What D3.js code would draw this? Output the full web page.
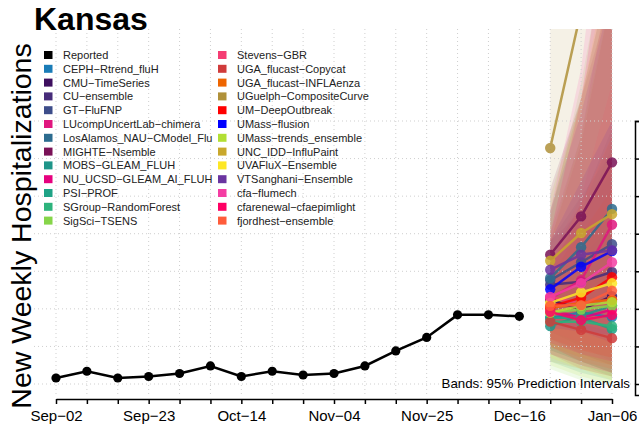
<!DOCTYPE html>
<html>
<head>
<meta charset="utf-8">
<script src="https://cdn.jsdelivr.net/npm/d3@7"></script>
<style>
  body { margin: 0; background: #fff; }
  svg { display: block; font-family: "Liberation Sans", Arial, sans-serif; }
</style>
</head>
<body>
<div id="chart"></div>
<script>
// weekly dates, Sep-02 to Jan-06
const weeks = ["2024-09-02","2024-09-09","2024-09-16","2024-09-23","2024-09-30","2024-10-07",
  "2024-10-14","2024-10-21","2024-10-28","2024-11-04","2024-11-11","2024-11-18","2024-11-25",
  "2024-12-02","2024-12-09","2024-12-16","2024-12-23","2024-12-30","2025-01-06"];
const tickLabels = ["Sep\u221202","Sep\u221223","Oct\u221214","Nov\u221204","Nov\u221225","Dec\u221216","Jan\u221206"];

const reported = [8, 17, 8, 10, 14, 24, 10, 17, 12, 14, 24, 44, 62, 92, 92, 90];

// forecast weeks are the last three dates
const models = ["CEPH\u2212Rtrend_fluH","CMU\u2212TimeSeries","CU\u2212ensemble","GT\u2212FluFNP",
  "LUcompUncertLab\u2212chimera","LosAlamos_NAU\u2212CModel_Flu","MIGHTE\u2212Nsemble","MOBS\u2212GLEAM_FLUH",
  "NU_UCSD\u2212GLEAM_AI_FLUH","PSI\u2212PROF","SGroup\u2212RandomForest","SigSci\u2212TSENS",
  "Stevens\u2212GBR","UGA_flucast\u2212Copycat","UGA_flucast\u2212INFLAenza","UGuelph\u2212CompositeCurve",
  "UM\u2212DeepOutbreak","UMass\u2212flusion","UMass\u2212trends_ensemble","UNC_IDD\u2212InfluPaint",
  "UVAFluX\u2212Ensemble","VTSanghani\u2212Ensemble","cfa\u2212flumech","cfarenewal\u2212cfaepimlight",
  "fjordhest\u2212ensemble"];
const colors = ["#1A7CB7","#3E0F5F","#472C7A","#3D4D8A","#E0167E","#2C6C8F","#7A1257","#1F9589",
  "#E6007E","#1FA386","#2DB37C","#86D549","#F53D73","#D03B3B","#EE6500","#B0913A",
  "#FF0000","#0000FF","#B2DF34","#C9A82C","#FDE725","#6A34A0","#F43DA3","#FF0064","#FF5C3B"];
const medians = [
  [88, 95, 89], [112, 99, 117], [132, 136, 149], [138, 162, 186], [114, 138, 212],
  [141, 182, 233], [172, 223, 295], [77, 91, 104], [99, 88, 99], [88, 88, 73],
  [83, 83, 77], [95, 99, 104], [116, 107, 112], [83, 72, 61], [101, 108, 112],
  [314, 497, 680], [103, 115, 142], [126, 156, 177], [95, 104, 109], [164, 201, 226],
  [108, 122, 134], [152, 172, 178], [116, 134, 162], [96, 85, 92], [104, 105, 124]];
const lower95 = [
  [45, 30, 15], [60, 40, 25], [80, 70, 60], [90, 90, 90], [55, 40, 30],
  [70, 50, 30], [100, 100, 110], [30, 15, 5], [40, 20, 10], [45, 30, 15],
  [40, 25, 10], [20, 5, 0], [70, 55, 45], [50, 30, 15], [50, 35, 25],
  [30, 20, 10], [60, 45, 35], [75, 70, 65], [25, 10, 0], [90, 80, 70],
  [35, 20, 5], [85, 70, 55], [55, 40, 30], [40, 25, 15], [50, 30, 20]];
const upper95 = [
  [140, 210, 320], [170, 240, 340], [190, 230, 280], [190, 250, 310], [200, 330, 560],
  [230, 380, 560], [260, 380, 520], [150, 230, 330], [190, 320, 520], [140, 180, 220],
  [135, 170, 210], [220, 400, 620], [170, 250, 400], [120, 140, 160], [150, 200, 260],
  [650, 1000, 1400], [160, 220, 300], [190, 270, 350], [190, 330, 520], [250, 380, 560],
  [230, 380, 580], [230, 360, 520], [230, 420, 750], [200, 380, 650], [160, 240, 330]];

const width = 639, height = 436;
const plot = { left: 34, right: 635, top: 29, bottom: 395 };

const parse = d3.timeParse("%Y-%m-%d");
const dates = weeks.map(parse);
const fcDates = dates.slice(16);

const x = d3.scaleTime()
  .domain([dates[0], dates[dates.length - 1]])
  .range([56, 612]);
const y = d3.scaleLinear().domain([0, 350]).range([384, 121]);

const svg = d3.select("#chart").append("svg")
  .attr("width", width).attr("height", height);

svg.append("clipPath").attr("id", "clip")
  .append("rect")
  .attr("x", plot.left).attr("y", plot.top)
  .attr("width", plot.right - plot.left).attr("height", plot.bottom - plot.top);

// prediction bands
const bands = svg.append("g").attr("clip-path", "url(#clip)");
const area = d3.area()
  .x(d => x(d.date))
  .y0(d => y(d.lo))
  .y1(d => y(d.hi));
models.forEach((m, i) => {
  const rows = fcDates.map((d, k) => ({ date: d, lo: lower95[i][k], hi: upper95[i][k] }));
  bands.append("path")
    .datum(rows)
    .attr("fill", colors[i])
    .attr("fill-opacity", 0.13)
    .attr("d", area);
});

// grid
const grid = svg.append("g")
  .attr("stroke", "#cfcfcf")
  .attr("stroke-dasharray", "1,3");
grid.selectAll(".h").data(d3.range(0, 351, 50)).join("line")
  .attr("x1", plot.left).attr("x2", plot.right)
  .attr("y1", d => y(d)).attr("y2", d => y(d));
grid.selectAll(".v").data(dates).join("line")
  .attr("x1", d => x(d)).attr("x2", d => x(d))
  .attr("y1", plot.top).attr("y2", plot.bottom);

// forecast lines
const lines = svg.append("g").attr("clip-path", "url(#clip)");
const line = d3.line().x(d => x(d.date)).y(d => y(d.v));
models.forEach((m, i) => {
  const rows = fcDates.map((d, k) => ({ date: d, v: medians[i][k] }));
  const g = lines.append("g").attr("opacity", 0.85);
  g.append("path").datum(rows)
    .attr("fill", "none").attr("stroke", colors[i]).attr("stroke-width", 2.5)
    .attr("d", line);
  g.selectAll("circle").data(rows).join("circle")
    .attr("cx", d => x(d.date)).attr("cy", d => y(d.v)).attr("r", 5.2)
    .attr("fill", colors[i]);
});

// reported
const obs = reported.map((v, k) => ({ date: dates[k], v: v }));
svg.append("path").datum(obs)
  .attr("fill", "none").attr("stroke", "#000").attr("stroke-width", 2.5)
  .attr("d", line);
svg.append("g").selectAll("circle").data(obs).join("circle")
  .attr("cx", d => x(d.date)).attr("cy", d => y(d.v)).attr("r", 4.6)
  .attr("fill", "#000");

// x axis
const labelSet = new Set(tickLabels);
const fmt = d3.timeFormat("%b\u2212%d");
svg.append("g")
  .attr("transform", "translate(0,399)")
  .call(d3.axisBottom(x).tickValues(dates).tickSize(5).tickSizeOuter(0)
    .tickFormat(d => labelSet.has(fmt(d)) ? fmt(d) : ""))
  .call(g => g.selectAll("path, line").attr("stroke", "#000").attr("stroke-width", 1.5))
  .call(g => g.selectAll("text").attr("fill", "#000")
    .attr("font-size", "15px").attr("font-family", "Liberation Sans, Arial, sans-serif")
    .attr("dy", "0.9em"));

// right axis, labels fall outside the picture
const yAxisScale = d3.scaleLinear().domain([y.invert(395), 350]).range([395, 121]);
svg.append("g")
  .attr("transform", `translate(${plot.right},0)`)
  .call(d3.axisRight(yAxisScale).tickValues(d3.range(0, 351, 50)).tickSize(5).tickFormat(""))
  .call(g => g.selectAll("path, line").attr("stroke", "#000").attr("stroke-width", 1.5));

// band note
svg.append("text")
  .attr("x", 630).attr("y", 388)
  .attr("text-anchor", "end")
  .attr("font-size", "13.3px")
  .text("Bands: 95% Prediction Intervals");

// title and y label
svg.append("text")
  .attr("x", 34).attr("y", 30)
  .attr("font-size", "32px").attr("font-weight", "bold")
  .text("Kansas");
svg.append("text")
  .attr("transform", "translate(31,226) rotate(-90)")
  .attr("text-anchor", "middle")
  .attr("font-size", "28.5px")
  .text("New Weekly Hospitalizations");

// legend
const legendNames = ["Reported"].concat(models);
const legendColors = ["#000000"].concat(colors);
const legend = svg.append("g");
legendNames.forEach((name, i) => {
  const col = Math.floor(i / 13), row = i % 13;
  const lx = col === 0 ? 44 : 218;
  const ly = 55 + row * 13.8;
  legend.append("rect")
    .attr("x", lx).attr("y", ly - 4).attr("width", 8.5).attr("height", 8)
    .attr("fill", legendColors[i]);
  legend.append("text")
    .attr("x", lx + 19).attr("y", ly + 4)
    .attr("font-size", "11px").attr("fill", "#222")
    .text(name);
});
</script>
</body>
</html>
